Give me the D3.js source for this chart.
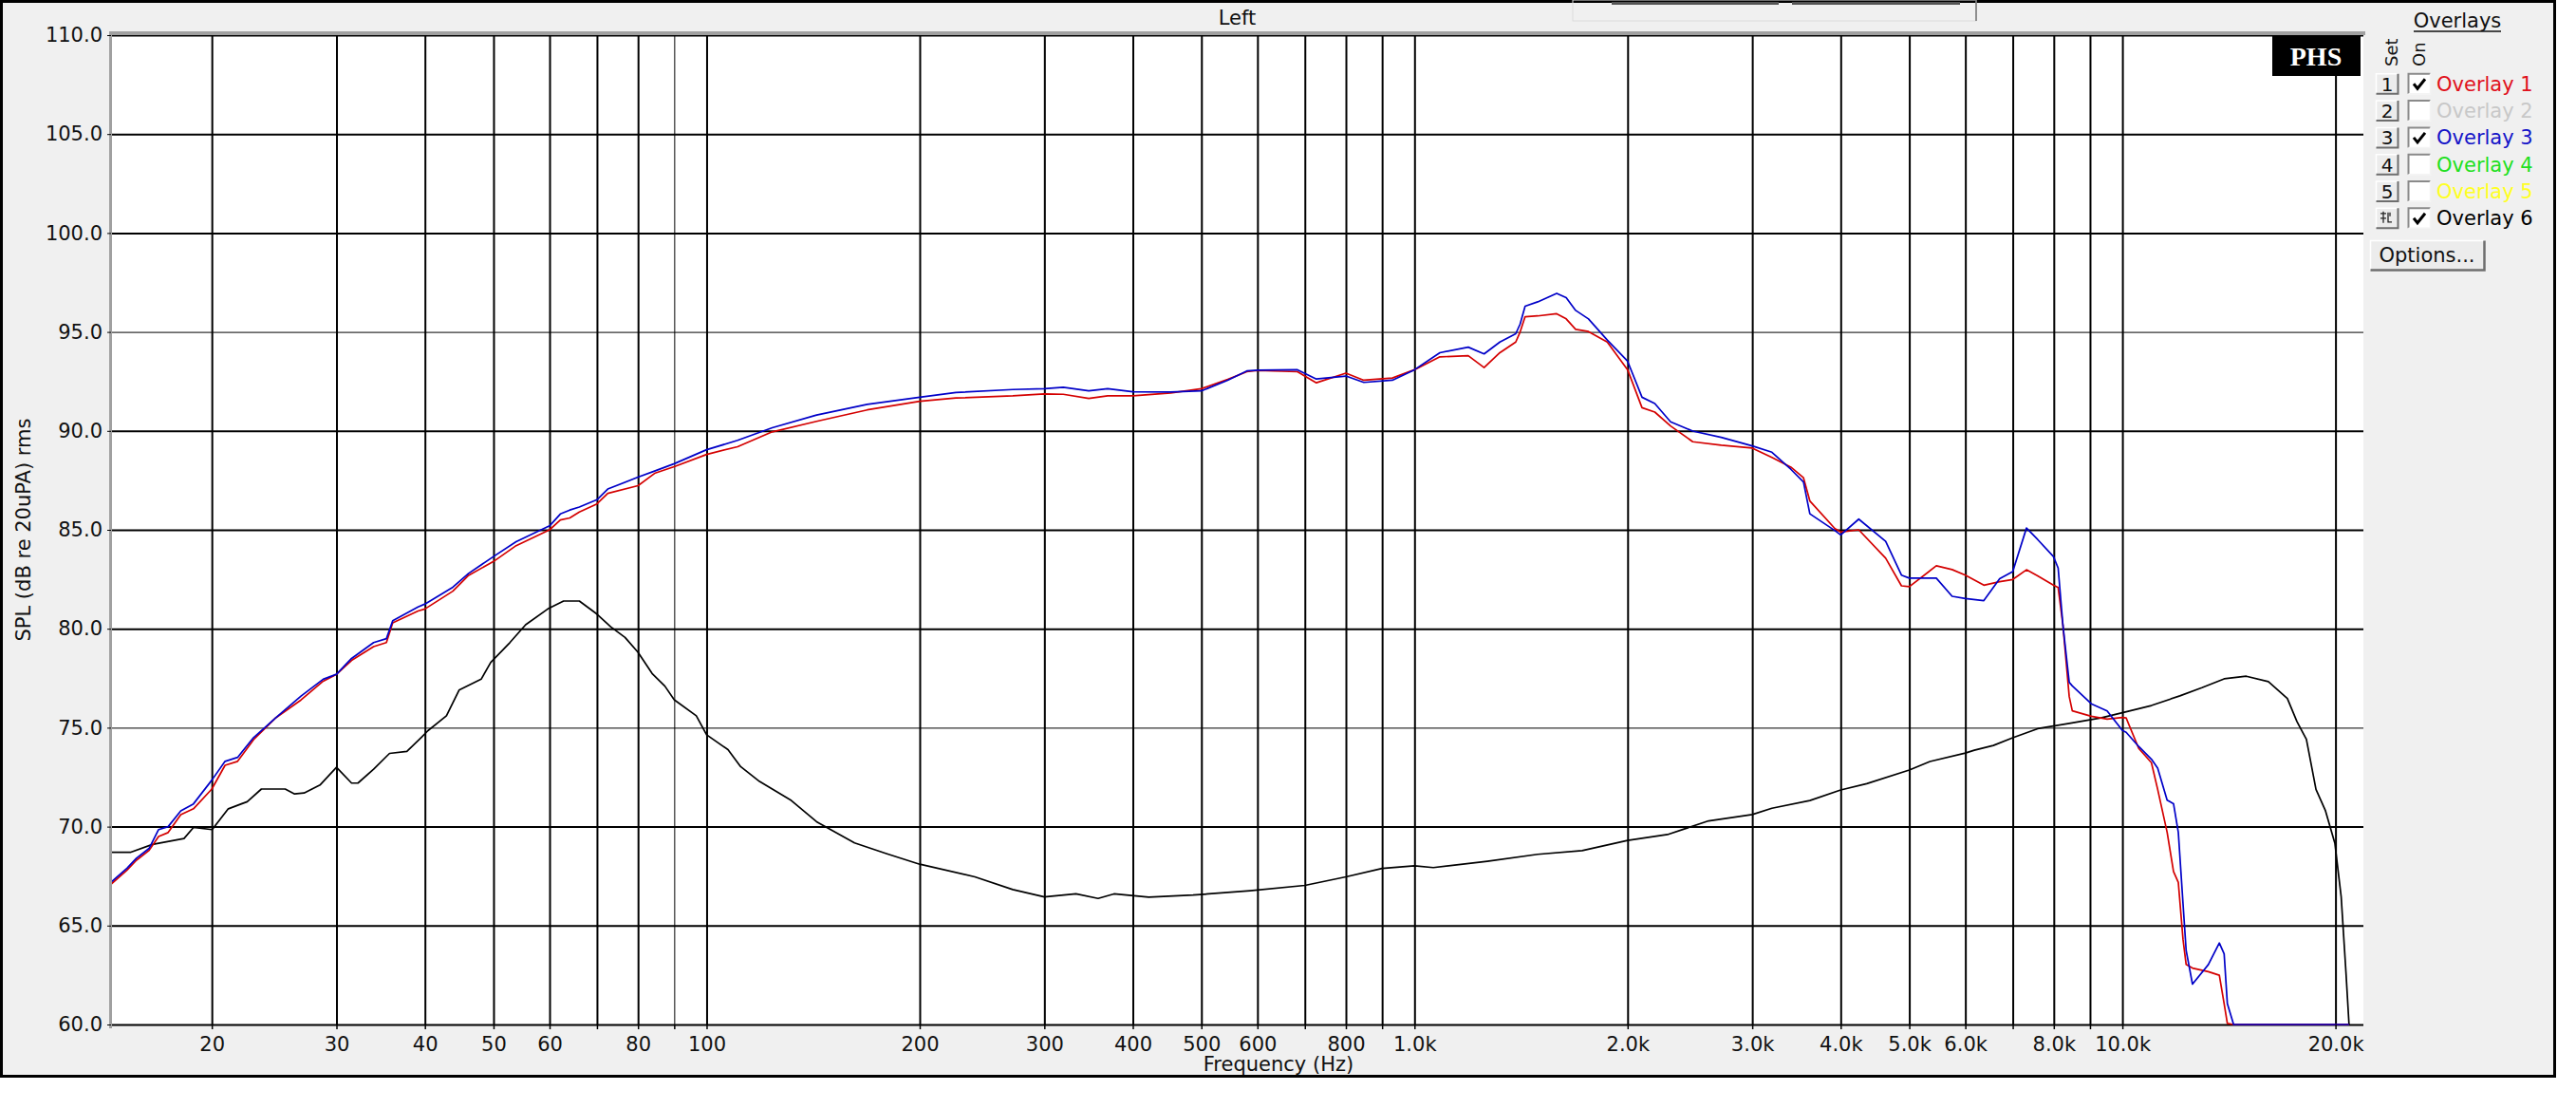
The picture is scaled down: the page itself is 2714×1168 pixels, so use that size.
<!DOCTYPE html>
<html lang="en">
<head>
<meta charset="utf-8">
<title>SPL (dB re 20uPA) rms - Left</title>
<script src="https://d3js.org/d3.v7.min.js"></script>
<style>
  body { margin: 0; background: #fff; }
  svg { display: block; font-family: "DejaVu Sans", sans-serif; }
  .tick text { font-family: "DejaVu Sans", sans-serif; font-size: 21px; fill: #111; }
  .curve { fill: none; stroke-width: 1.7px; stroke-linejoin: round; }
</style>
</head>
<body>
<svg width="2714" height="1168"></svg>
<script>
// Overlay 1 (red) and Overlay 3 (blue) share one frequency list
var freqOverlay13 = [14.42,15.18,15.65,16.31,16.82,17.35,18.08,18.84,20,20.88,21.75,22.91,24.63,26.73,28.73,30,31.51,33.85,35.29,36.02,39.11,40,43.8,46.11,50,53.82,60,62.14,64.08,66.1,70,72.5,80,84.6,90,100,110.6,123.8,143,168.6,200,225,270.7,300,319,346.6,368.6,400,452.6,500,544.6,579.5,600,683.4,726.7,800,848,930.6,1000,1086,1191,1254,1320,1390,1410,1433,1493,1588,1638,1689,1761,1872,2000,2096,2185,2300,2472,2712,3000,3198,3401,3544,3618,3926,4000,4242,4630,4874,5000,5459,5747,6000,6372,6708,7000,7320,7591,7990,8114,8241,8412,8496,9037,9516,10000,10123,10546,10990,11216,11567,11809,11995,12180,12304,12560,13226,13707,13923,14069,14359,20900];

var overlay1 = [67.1,67.8,68.3,68.8,69.5,69.7,70.6,70.9,71.9,73.1,73.3,74.4,75.5,76.4,77.35,77.7,78.4,79.1,79.3,80.3,80.9,81.0,81.9,82.7,83.4,84.2,85.0,85.5,85.6,85.9,86.31,86.84,87.23,87.87,88.19,88.81,89.2,89.95,90.48,91.06,91.5,91.66,91.77,91.87,91.85,91.64,91.77,91.77,91.92,92.13,92.6,92.99,93.05,92.99,92.43,92.92,92.56,92.67,93.09,93.74,93.8,93.2,93.95,94.49,95.0,95.77,95.81,95.92,95.66,95.13,95.02,94.49,93.09,91.17,90.95,90.25,89.45,89.28,89.13,88.66,88.17,87.63,86.46,85.06,84.89,85.0,83.57,82.17,82.13,83.18,82.99,82.71,82.2,82.38,82.49,82.98,82.67,82.2,82.08,80.18,76.57,75.85,75.58,75.43,75.52,75.49,73.95,73.23,71.88,69.71,67.73,67.18,64.3,63.03,62.85,62.67,62.49,61.05,60.05,60,60];

var overlay3 = [67.2,67.9,68.4,68.9,69.85,70.0,70.8,71.15,72.35,73.3,73.5,74.5,75.5,76.6,77.45,77.7,78.5,79.3,79.5,80.4,81.1,81.25,82.1,82.8,83.65,84.4,85.2,85.8,86.0,86.15,86.52,87.06,87.66,87.98,88.34,89.05,89.52,90.16,90.8,91.34,91.7,91.94,92.09,92.13,92.2,92.02,92.13,91.98,91.96,92.02,92.56,93.03,93.07,93.09,92.62,92.77,92.45,92.56,93.09,93.95,94.23,93.89,94.49,94.91,95.4,96.3,96.52,96.95,96.73,96.09,95.66,94.59,93.52,91.7,91.38,90.46,89.99,89.67,89.24,88.92,88.06,87.42,85.81,84.96,84.74,85.54,84.42,82.71,82.56,82.56,81.64,81.53,81.42,82.53,82.89,85.09,84.51,83.65,83.07,80.18,77.29,77.11,76.21,75.85,74.86,74.77,74.05,73.41,72.96,71.34,71.16,69.71,66.1,63.75,62.04,63.03,64.12,63.57,61.05,60,60];

// Overlay 6 (black)
var freqOverlay6 = [14.42,15.34,16.48,18.27,18.84,20.02,21.1,22.44,23.5,25.39,26.18,27.0,28.43,30,31.51,32.17,33.85,35.65,37.72,39.51,40.4,42.9,44.7,48.03,49.55,52.73,55.5,59.65,62.8,66.1,70,73.2,76.7,80,83.75,87.3,90,96.7,100,107.2,111.7,118.8,131.7,143,161.8,179.4,200,239.3,270.7,300,332.5,357.3,376.2,421.3,486.6,585.7,700,800,900,1000,1063,1267,1493,1725,2000,2277,2603,3000,3198,3618,4000,4353,5000,5348,6000,6177,6572,7000,7591,8412,9322,10000,10990,12056,12952,13923,14966,16077,17101,17642,18194,18770,19360,19958,20373,20690,20900];

var overlay6 = [68.7,68.7,69.1,69.4,69.96,69.85,70.9,71.26,71.9,71.9,71.65,71.7,72.1,73.0,72.2,72.2,72.9,73.7,73.8,74.5,74.85,75.6,76.9,77.45,78.3,79.3,80.2,81.0,81.4,81.4,80.74,80.1,79.56,78.81,77.74,77.1,76.41,75.6,74.64,73.89,73.03,72.28,71.32,70.25,69.18,68.64,68.1,67.46,66.82,66.45,66.6,66.37,66.6,66.44,66.54,66.76,67.03,67.46,67.89,68.02,67.93,68.25,68.6,68.79,69.3,69.6,70.29,70.61,70.93,71.32,71.85,72.17,72.86,73.29,73.72,73.86,74.1,74.49,74.95,75.22,75.49,75.76,76.12,76.61,77.02,77.47,77.6,77.33,76.48,75.31,74.41,71.88,70.8,69.17,66.46,62.67,60];

// axis ticks
var yTicks = [60,65,70,75,80,85,90,95,100,105,110];
var xGrid = [20,30,40,50,60,70,80,90,100,200,300,400,500,600,700,800,900,1000,2000,3000,4000,5000,6000,7000,8000,9000,10000,20000];
var xLabels = [20,30,40,50,60,80,100,200,300,400,500,600,800,1000,2000,3000,4000,5000,6000,8000,10000,20000];

// legend
var overlayNames = ["Overlay 1","Overlay 2","Overlay 3","Overlay 4","Overlay 5","Overlay 6"];
var overlayColors = ["#e0101c","#c8c8c8","#1414c8","#20e020","#ffff22","#000000"];
var overlayOn = [true,false,true,false,false,true];
var setButtons = ["1","2","3","4","5",""];

var svg = d3.select("svg");
var plotL = 117, plotR = 2490, plotT = 37, plotB = 1079;

var x = d3.scaleLog().domain([14.41, 21900]).range([plotL, plotR]);
var y = d3.scaleLinear().domain([60, 110]).range([plotB, plotT]);

// window frame
svg.append("rect").attr("width", 2714).attr("height", 1168).attr("fill", "#fff");
svg.append("rect")
  .attr("x", 1.5).attr("y", 1.5).attr("width", 2690).attr("height", 1132)
  .attr("fill", "#f0f0f0").attr("stroke", "#000").attr("stroke-width", 3);

// little widgets at the top
svg.append("rect").attr("x", 1657).attr("y", 0).attr("width", 425).attr("height", 22)
  .attr("fill", "none").attr("stroke", "#dcdcdc").attr("stroke-width", 1);
svg.append("line").attr("x1", 2082).attr("x2", 2082).attr("y1", 0).attr("y2", 22)
  .attr("stroke", "#707070").attr("stroke-width", 1.5);
svg.append("rect").attr("x", 1698).attr("y", 2).attr("width", 176).attr("height", 3).attr("fill", "#555");
svg.append("rect").attr("x", 1888).attr("y", 2).attr("width", 177).attr("height", 3).attr("fill", "#555");

svg.append("text").attr("x", (plotL + plotR) / 2).attr("y", 26)
  .attr("text-anchor", "middle").attr("font-size", 21).attr("fill", "#111").text("Left");

// plot area
svg.append("rect").attr("x", plotL).attr("y", plotT)
  .attr("width", plotR - plotL).attr("height", plotB - plotT).attr("fill", "#fff");

svg.append("clipPath").attr("id", "clip")
  .append("rect").attr("x", plotL).attr("y", plotT - 1)
  .attr("width", plotR - plotL).attr("height", plotB - plotT + 2);

// grid lines
var xGridAxis = svg.append("g")
  .attr("transform", "translate(0," + plotB + ")")
  .call(d3.axisBottom(x).tickValues(xGrid).tickSize(-(plotB - plotT)).tickFormat(""));
xGridAxis.select(".domain").remove();
xGridAxis.selectAll("line")
  .attr("stroke", "#000")
  .attr("stroke-width", function(d) { return d === 90 ? 1 : 2; });

var yGridAxis = svg.append("g")
  .attr("transform", "translate(" + plotL + ",0)")
  .call(d3.axisLeft(y).tickValues(yTicks).tickSize(-(plotR - plotL)).tickFormat(""));
yGridAxis.select(".domain").remove();
yGridAxis.selectAll("line")
  .attr("stroke", "#000")
  .attr("stroke-width", function(d) { return (d === 95 || d === 75) ? 1 : 2; });

// curves
var line = d3.line()
  .x(function(d) { return x(d[0]); })
  .y(function(d) { return y(d[1]); });

var curves = [
  { f: freqOverlay6, v: overlay6, color: "#000" },
  { f: freqOverlay13, v: overlay1, color: "#d40000" },
  { f: freqOverlay13, v: overlay3, color: "#0000c8" }
];

svg.append("g").attr("clip-path", "url(#clip)")
  .selectAll("path")
  .data(curves)
  .enter()
  .append("path")
    .attr("class", "curve")
    .attr("stroke", function(c) { return c.color; })
    .attr("d", function(c) { return line(c.f.map(function(f, i) { return [f, c.v[i]]; })); });

// gray border on top and left of the plot
svg.append("rect").attr("x", 115).attr("y", 33).attr("width", plotR + 2 - 115).attr("height", 4).attr("fill", "#a0a0a0");
svg.append("rect").attr("x", 115).attr("y", 33).attr("width", 3).attr("height", plotB + 4 - 33).attr("fill", "#a0a0a0");

// axes with labels
var xAxis = svg.append("g")
  .attr("transform", "translate(0," + plotB + ")")
  .call(d3.axisBottom(x).tickValues(xGrid).tickSize(5).tickPadding(8)
    .tickFormat(function(d) {
      if (xLabels.indexOf(d) < 0) return "";
      return d < 1000 ? d : (d / 1000).toFixed(1) + "k";
    }));
xAxis.select(".domain").remove();
xAxis.selectAll("line").attr("stroke", "#000").attr("stroke-width", 1.5);

var yAxis = svg.append("g")
  .attr("transform", "translate(" + plotL + ",0)")
  .call(d3.axisLeft(y).tickValues(yTicks).tickSize(4).tickPadding(5).tickFormat(d3.format(".1f")));
yAxis.select(".domain").remove();
yAxis.selectAll("line").attr("stroke", "#000");

svg.append("text")
  .attr("transform", "translate(32," + (plotT + plotB) / 2 + ") rotate(-90)")
  .attr("text-anchor", "middle").attr("font-size", 21).attr("fill", "#111")
  .text("SPL (dB re 20uPA) rms");

svg.append("text").attr("x", 1347).attr("y", 1128)
  .attr("text-anchor", "middle").attr("font-size", 21).attr("fill", "#111")
  .text("Frequency (Hz)");

// PHS logo
svg.append("rect").attr("x", 2394).attr("y", 38).attr("width", 93).attr("height", 42).attr("fill", "#000");
svg.append("text").attr("x", 2440).attr("y", 69)
  .attr("text-anchor", "middle").attr("font-family", "Liberation Serif, serif")
  .attr("font-weight", "bold").attr("font-size", 28).attr("fill", "#fff").text("PHS");

// overlay legend
var lg = svg.append("g");
lg.append("text").attr("x", 2589).attr("y", 29).attr("text-anchor", "middle")
  .attr("font-size", 21).attr("fill", "#111").text("Overlays");
lg.append("line").attr("x1", 2543).attr("x2", 2635).attr("y1", 33).attr("y2", 33)
  .attr("stroke", "#111").attr("stroke-width", 1.5);
lg.append("text").attr("transform", "translate(2526,70) rotate(-90)")
  .attr("font-size", 18).attr("fill", "#111").text("Set");
lg.append("text").attr("transform", "translate(2555,70) rotate(-90)")
  .attr("font-size", 18).attr("fill", "#111").text("On");

var rows = lg.selectAll("g.row")
  .data(overlayNames)
  .enter()
  .append("g")
    .attr("class", "row")
    .attr("transform", function(d, i) { return "translate(0," + (88.3 + i * 28.3) + ")"; });

// raised "Set" buttons
rows.append("rect").attr("x", 2503).attr("y", -11).attr("width", 24).attr("height", 22)
  .attr("fill", "#ececec");
rows.append("path").attr("d", "M2503.5,10.5 V-10.5 H2526.5").attr("fill", "none").attr("stroke", "#fff").attr("stroke-width", 1.5);
rows.append("path").attr("d", "M2503.5,10.5 H2526.5 V-10.5").attr("fill", "none").attr("stroke", "#6e6e6e").attr("stroke-width", 2);
rows.append("text").attr("x", 2515).attr("y", 7.5).attr("text-anchor", "middle")
  .attr("font-size", 20).attr("fill", "#111")
  .text(function(d, i) { return setButtons[i]; });
// small icon on the last button
rows.filter(function(d, i) { return i === 5; })
  .append("path")
  .attr("d", "M2508,-5 h6 M2508,0 h6 M2511,-7 v12 M2516,-6 v10 h4 M2518,-6 v4")
  .attr("fill", "none").attr("stroke", "#222").attr("stroke-width", 1.3);

// sunken check boxes
rows.append("rect").attr("x", 2537).attr("y", -11).attr("width", 24).attr("height", 22)
  .attr("fill", "#fff");
rows.append("path").attr("d", "M2537.5,10.5 V-10.5 H2560.5").attr("fill", "none").attr("stroke", "#8a8a8a").attr("stroke-width", 2);
rows.append("path").attr("d", "M2537.5,10.5 H2560.5 V-10.5").attr("fill", "none").attr("stroke", "#f4f4f4").attr("stroke-width", 1.5);
rows.filter(function(d, i) { return overlayOn[i]; })
  .append("path").attr("d", "M2543,0 L2547,5 L2555,-5")
  .attr("fill", "none").attr("stroke", "#000").attr("stroke-width", 3);

rows.append("text").attr("x", 2567).attr("y", 7.5)
  .attr("font-size", 21)
  .attr("fill", function(d, i) { return overlayColors[i]; })
  .text(function(d) { return d; });

// Options button
lg.append("rect").attr("x", 2497).attr("y", 253).attr("width", 121).attr("height", 32).attr("fill", "#ececec");
lg.append("path").attr("d", "M2497.5,284.5 V253.5 H2617.5").attr("fill", "none").attr("stroke", "#fff").attr("stroke-width", 1.5);
lg.append("path").attr("d", "M2497.5,284.5 H2617.5 V253.5").attr("fill", "none").attr("stroke", "#6e6e6e").attr("stroke-width", 2.5);
lg.append("text").attr("x", 2557).attr("y", 276).attr("text-anchor", "middle")
  .attr("font-size", 21).attr("fill", "#111").text("Options...");
</script>
</body>
</html>
